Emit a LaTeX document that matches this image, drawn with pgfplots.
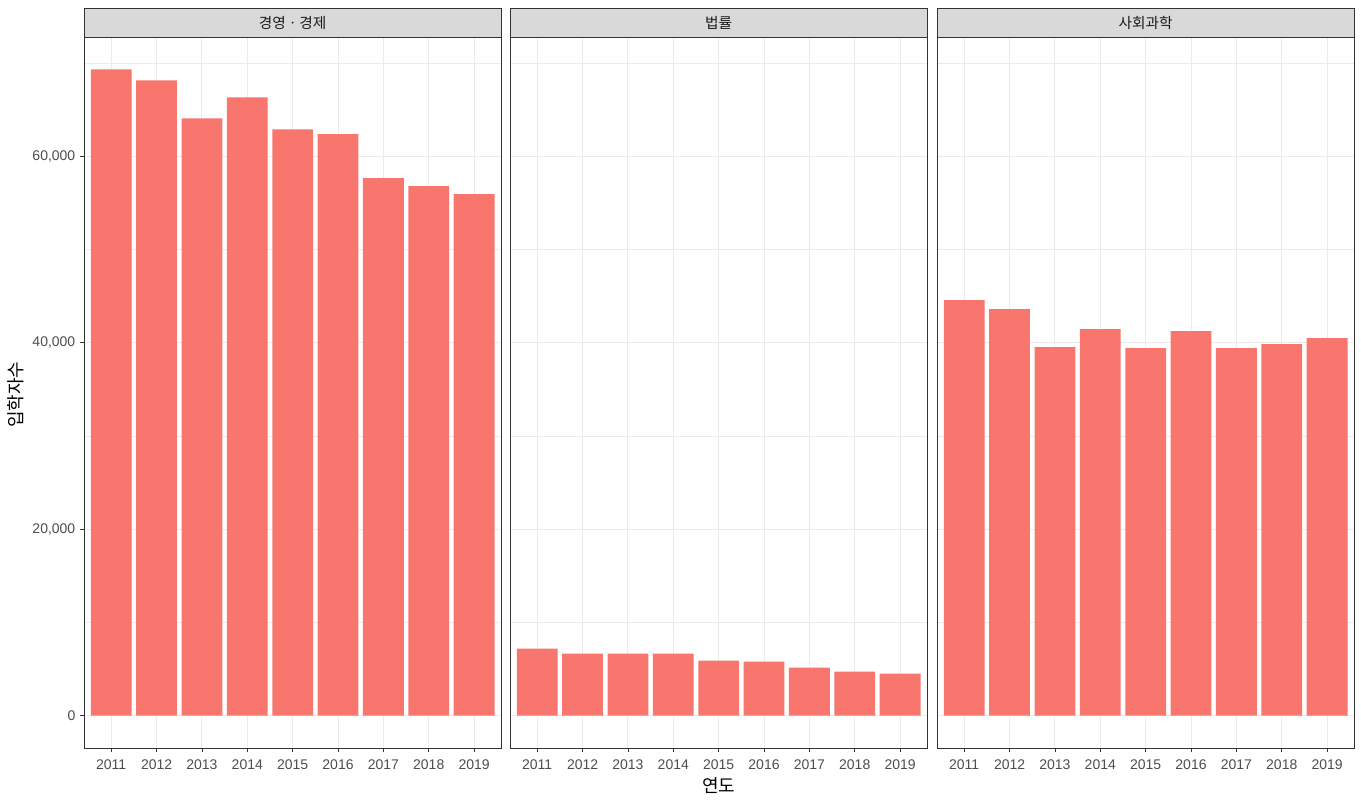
\documentclass[border=0pt]{standalone}
\usepackage{pgfplots}
\pgfplotsset{compat=1.18}
\usepackage{fontspec}
\setmainfont{Liberation Sans}
\newfontfamily\kr{Noto Sans CJK KR}
\definecolor{barc}{HTML}{F8766D}
\definecolor{gridc}{HTML}{EBEBEB}
\definecolor{borderc}{HTML}{333333}
\definecolor{stripc}{HTML}{D9D9D9}
\definecolor{tickc}{HTML}{4D4D4D}
\definecolor{stript}{HTML}{1A1A1A}
\pgfplotsset{panel/.style={
  scale only axis, width=313pt, height=533.25pt, anchor=north west,
  xmin=0.4, xmax=9.6, ymin=-3466, ymax=72787,
  xtick={1,2,3,4,5,6,7,8,9},
  xticklabels={2011,2012,2013,2014,2015,2016,2017,2018,2019},
  ytick={0,20000,40000,60000}, minor ytick={10000,30000,50000,70000},
  scaled y ticks=false, scaled x ticks=false,
  xtick pos=lower, ytick pos=left,
  xmajorgrids, ymajorgrids, yminorgrids,
  major grid style={gridc, line width=0.75pt},
  minor grid style={gridc, line width=0.4pt},
  axis line style={borderc, line width=0.7pt},
  tick style={borderc, line width=0.6pt}, tick align=outside,
  major tick length=3pt, minor tick length=0pt,
  ticklabel style={font=\fontsize{10.5}{12}\selectfont, text=tickc},
  xticklabel style={yshift=-2.5pt},
  clip=false,
}}
\newcommand{\strip}[1]{%
  \draw[borderc, line width=0.7pt, fill=stripc] (rel axis cs:0,1) rectangle ([yshift=21.75pt]rel axis cs:1,1);
  \node[font=\kr\fontsize{11}{12}\selectfont, text=stript] at ([yshift=10.5pt]rel axis cs:0.5,1) {#1};
}
\begin{document}
\begin{tikzpicture}
\useasboundingbox (0,0) rectangle (1020.75pt,-601.5pt);
\begin{axis}[panel, at={(63pt,-27.75pt)},
  yticklabels={0,{20,000},{40,000},{60,000}}]
\addplot[ybar, bar width=0.9, fill=barc, draw=none] coordinates {(1,69321) (2,68143) (3,64071) (4,66321) (5,62893) (6,62357) (7,57643) (8,56786) (9,55929)};
\strip{경영ㆍ경제}
\end{axis}
\begin{axis}[panel, at={(382.5pt,-27.75pt)}, yticklabels={}, ytick style={draw=none}]
\addplot[ybar, bar width=0.9, fill=barc, draw=none] coordinates {(1,7179) (2,6643) (3,6643) (4,6643) (5,5893) (6,5786) (7,5143) (8,4714) (9,4500)};
\strip{법률}
\node[font=\kr\fontsize{13.5}{15}\selectfont] at ([yshift=-28.5pt]rel axis cs:0.5,0) {연도};
\end{axis}
\begin{axis}[panel, at={(702.75pt,-27.75pt)}, yticklabels={}, ytick style={draw=none}]
\addplot[ybar, bar width=0.9, fill=barc, draw=none] coordinates {(1,44571) (2,43607) (3,39536) (4,41464) (5,39429) (6,41250) (7,39429) (8,39857) (9,40500)};
\strip{사회과학}
\end{axis}
\node[rotate=90, font=\kr\fontsize{13.5}{15}\selectfont] at (11.5pt,-296pt) {입학자수};
\end{tikzpicture}
\end{document}
